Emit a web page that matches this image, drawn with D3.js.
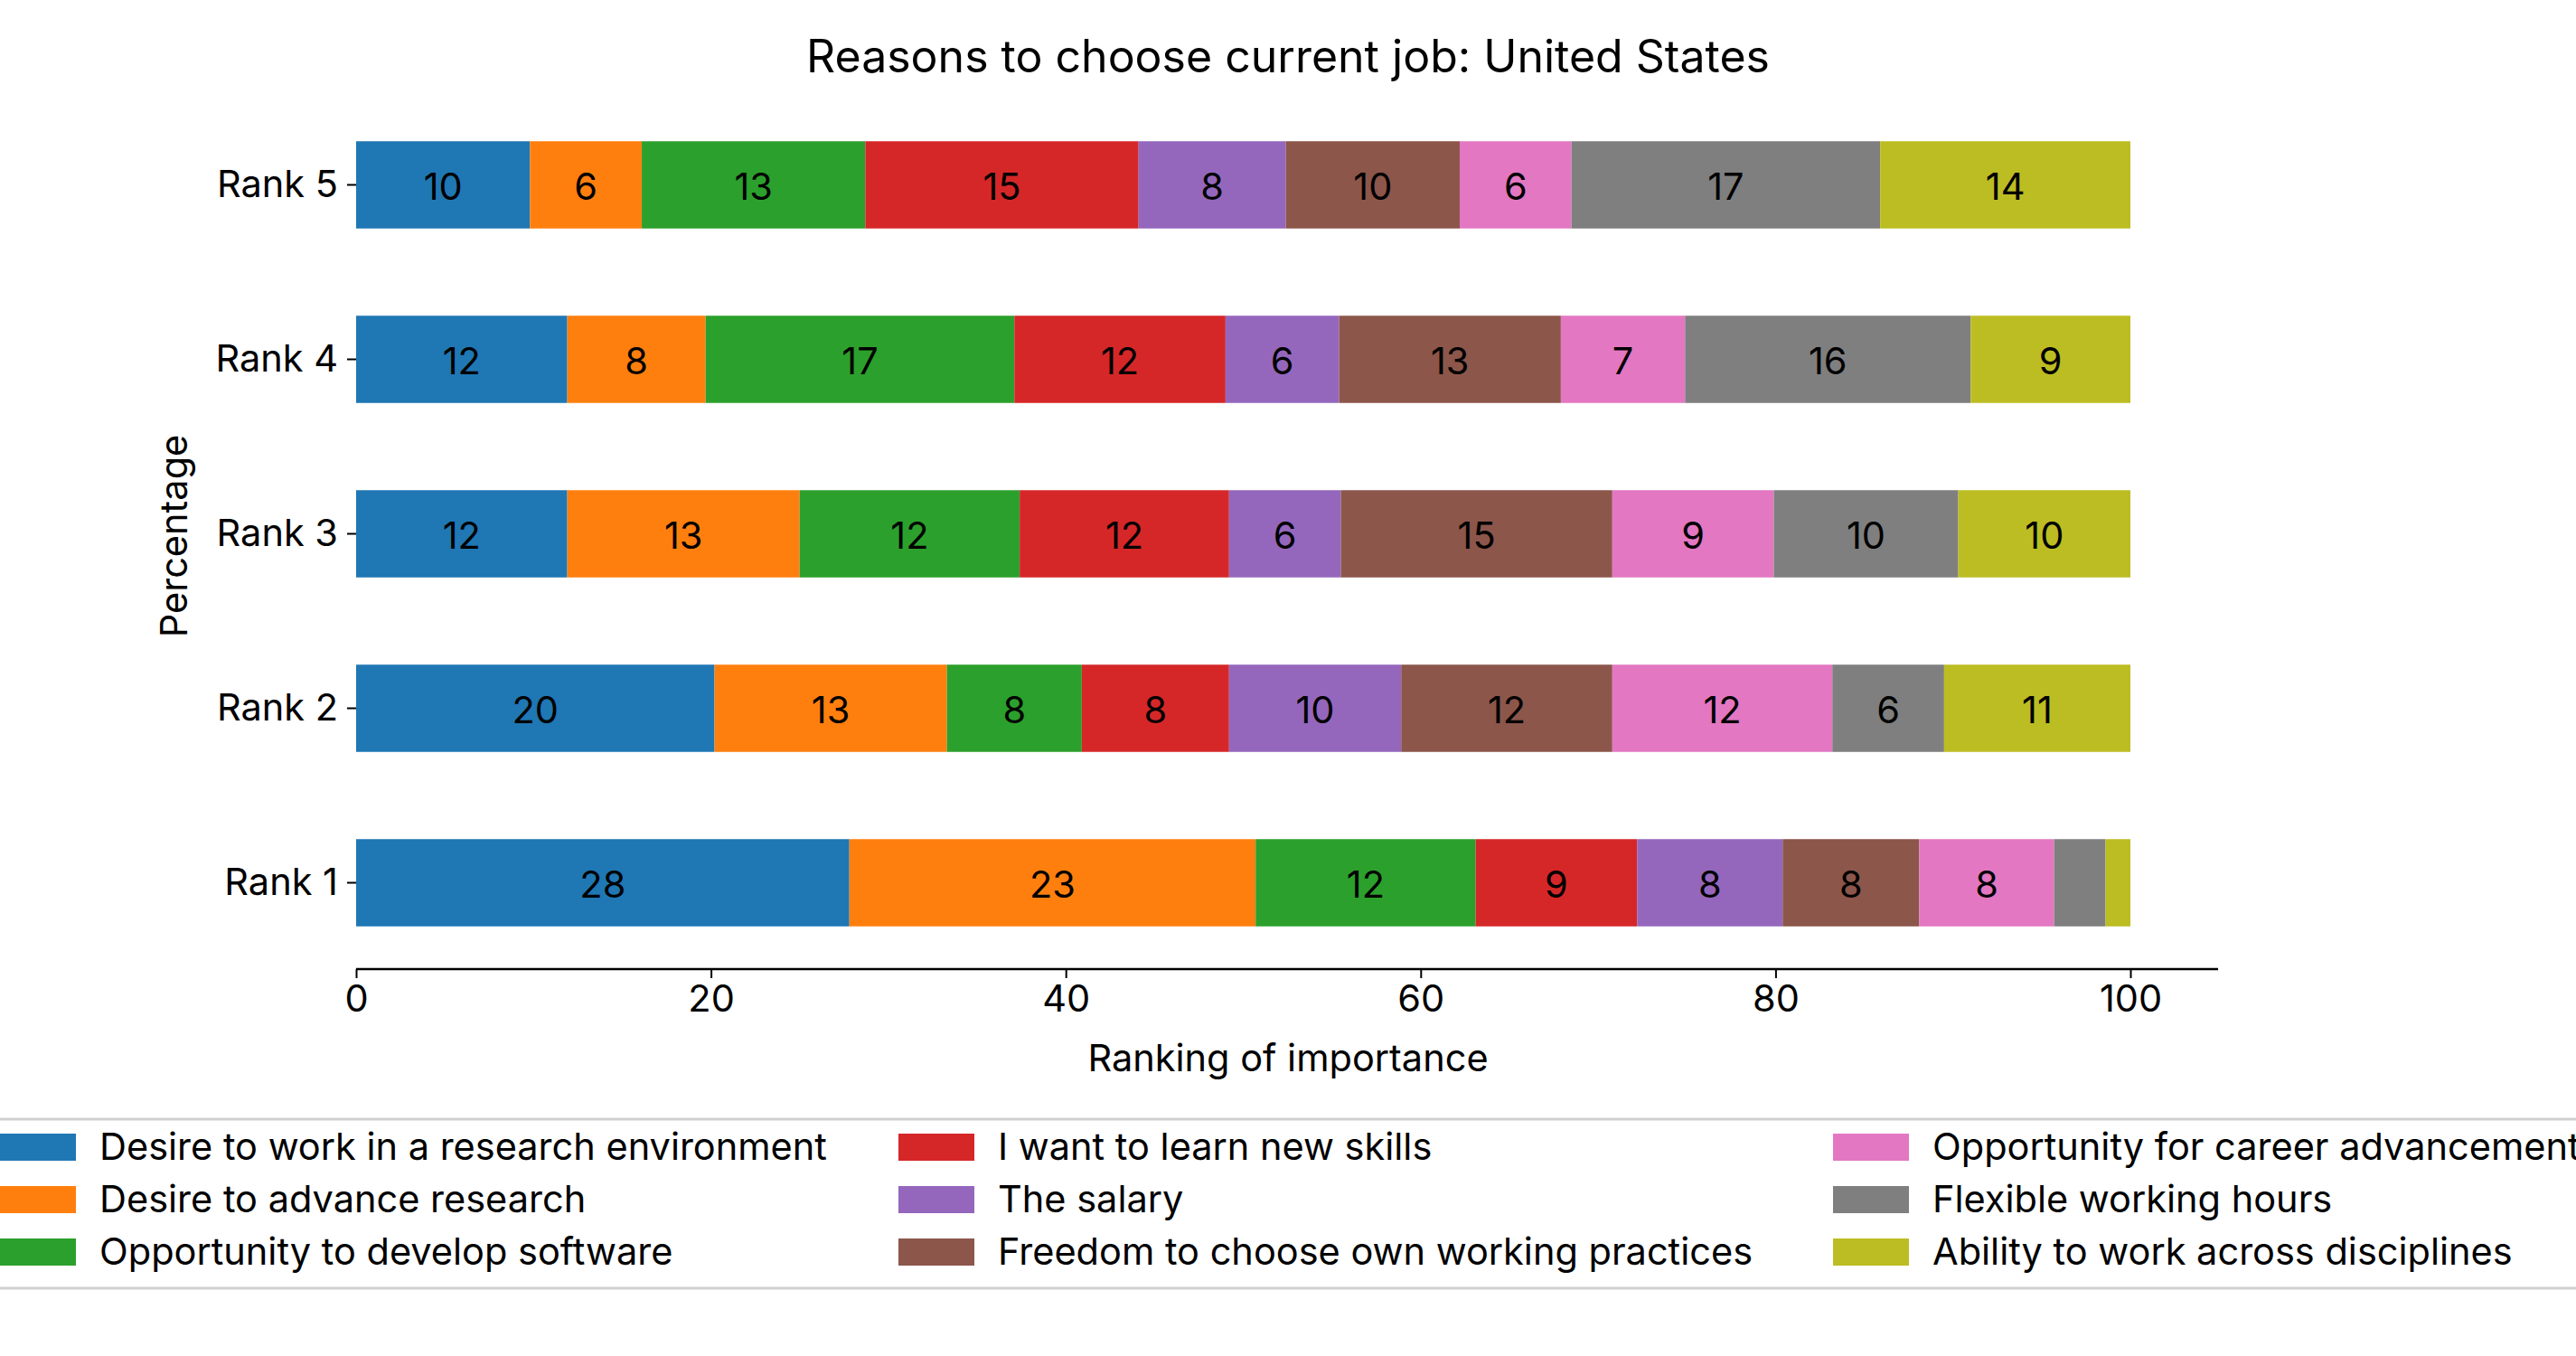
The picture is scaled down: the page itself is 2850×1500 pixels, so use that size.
<!DOCTYPE html>
<html><head><meta charset="utf-8">
<script src="https://cdn.jsdelivr.net/npm/d3@7"></script>
<style>body{margin:0;background:#fff}svg{font-family:Inter,"DejaVu Sans",sans-serif}</style>
</head><body>
<script>
const ranks = ["Rank 1", "Rank 2", "Rank 3", "Rank 4", "Rank 5"];
const reasons = [
  "Desire to work in a research environment",
  "Desire to advance research",
  "Opportunity to develop software",
  "I want to learn new skills",
  "The salary",
  "Freedom to choose own working practices",
  "Opportunity for career advancement",
  "Flexible working hours",
  "Ability to work across disciplines",
];
const colors = ["#1f77b4","#ff7f0e","#2ca02c","#d62728","#9467bd","#8c564b","#e377c2","#7f7f7f","#bcbd22"];
// values per rank, in the reasons order
const rank1 = [27.8, 22.9, 12.4, 9.1, 8.2, 7.7, 7.6, 2.9, 1.4];
const rank2 = [20.2, 13.1, 7.6, 8.3, 9.7, 11.9, 12.4, 6.3, 10.5];
const rank3 = [11.9, 13.1, 12.4, 11.8, 6.3, 15.3, 9.1, 10.4, 9.7];
const rank4 = [11.9, 7.8, 17.4, 11.9, 6.4, 12.5, 7.0, 16.1, 9.0];
const rank5 = [9.8, 6.3, 12.6, 15.4, 8.3, 9.8, 6.3, 17.4, 14.1];
const xTicks = [0, 20, 40, 60, 80, 100];

const values = [rank1, rank2, rank3, rank4, rank5];
const W = 2850, H = 1500;
const FS = 41.5;
const svg = d3.select("body").append("svg").attr("width", W).attr("height", H);

const x = d3.scaleLinear().domain([0, 100]).range([394, 2357]);
const y = d3.scaleBand().domain(ranks.slice().reverse()).range([108, 1073]).paddingInner(0.5).paddingOuter(0.25);

svg.append("text").attr("x", 1425).attr("y", 80).attr("text-anchor", "middle")
  .attr("font-size", 50).text("Reasons to choose current job: United States");

ranks.forEach((r, ri) => {
  let acc = 0;
  const segs = values[ri].map((v, i) => { const s = {v, i, x0: acc}; acc += v; return s; });
  const g = svg.append("g");
  g.selectAll("rect").data(segs).join("rect")
    .attr("x", d => x(d.x0)).attr("width", d => x(d.x0 + d.v) - x(d.x0))
    .attr("y", y(r)).attr("height", y.bandwidth())
    .attr("fill", d => colors[d.i]);
  g.selectAll("text").data(segs.filter(d => d.v >= 4)).join("text")
    .attr("x", d => x(d.x0 + d.v / 2)).attr("y", y(r) + y.bandwidth() / 2 + 16)
    .attr("text-anchor", "middle").attr("font-size", FS).text(d => Math.round(d.v));
});

const yAxis = svg.append("g").attr("transform", "translate(394,0)")
  .call(d3.axisLeft(y).tickSize(10).tickPadding(10));
yAxis.select(".domain").remove();
yAxis.selectAll("text").attr("font-size", FS).attr("font-family", "Inter");
yAxis.selectAll("line").attr("stroke-width", 2);

const xAxis = svg.append("g").attr("transform", "translate(0,1072)")
  .call(d3.axisBottom(x).tickValues(xTicks).tickSize(10).tickPadding(8));
xAxis.select(".domain").attr("d", "M394,0H2454").attr("stroke-width", 2.5);
xAxis.selectAll("text").attr("font-size", FS).attr("font-family", "Inter");
xAxis.selectAll("line").attr("stroke-width", 2);

svg.append("text").attr("x", 1425).attr("y", 1185).attr("text-anchor", "middle")
  .attr("font-size", FS).text("Ranking of importance");
svg.append("text").attr("transform", "translate(207,593) rotate(-90)").attr("text-anchor", "middle")
  .attr("font-size", FS).text("Percentage");

// legend
svg.append("line").attr("x1", 0).attr("x2", W).attr("y1", 1238).attr("y2", 1238).attr("stroke", "#d0d0d0").attr("stroke-width", 3);
svg.append("line").attr("x1", 0).attr("x2", W).attr("y1", 1425).attr("y2", 1425).attr("stroke", "#d0d0d0").attr("stroke-width", 3);
const colX = [0, 994, 2028], rowY = [1269, 1327, 1385];
const leg = svg.selectAll("g.leg").data(reasons).join("g").attr("class", "leg")
  .attr("transform", (d, i) => `translate(${colX[Math.floor(i / 3)]},${rowY[i % 3]})`);
leg.append("rect").attr("x", 0).attr("y", -15).attr("width", 84).attr("height", 30).attr("fill", (d, i) => colors[i]);
leg.append("text").attr("x", 110).attr("y", 14).attr("font-size", FS).text(d => d);
</script>
</body></html>
